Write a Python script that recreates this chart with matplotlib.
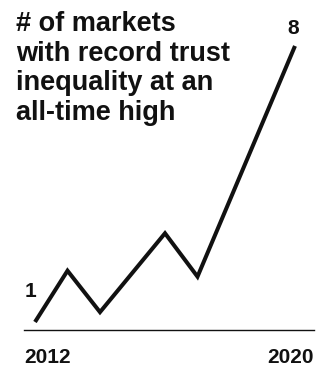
import matplotlib
matplotlib.use('Agg')
import matplotlib.pyplot as plt

# Data
years = [2012, 2013, 2014, 2016, 2017, 2020]
markets = [1, 2.3, 1.25, 3.25, 2.15, 8]
title = '# of markets\nwith record trust\ninequality at an\nall-time high'
start_label = '1'
end_label = '8'

W, H = 326, 376
plt.rcParams['font.family'] = ['Liberation Sans', 'DejaVu Sans']
ink = '#111111'

fig = plt.figure(figsize=(W / 100, H / 100), dpi=100)
ax = fig.add_axes([0, 0, 1, 1])
ax.set_xlim(2010.923, 2020.954)
ax.set_ylim(-0.37, 9.166)
ax.axis('off')

ax.plot(years, markets, color=ink, lw=2.9, solid_joinstyle='miter', solid_capstyle='butt')

# baseline
ax.axhline(0.797, xmin=24 / W, xmax=314 / W, color=ink, lw=1.0)

ax.text(16 / W, 1 - 11 / H, title, transform=ax.transAxes, ha='left', va='top',
        fontsize=19.5, fontweight='bold', color=ink, linespacing=1.18)

ax.text(24 / W, 1 - 363 / H, str(years[0]), transform=ax.transAxes, ha='left',
        va='baseline', fontsize=15, fontweight='bold', color=ink)
ax.text(314 / W, 1 - 363 / H, str(years[-1]), transform=ax.transAxes, ha='right',
        va='baseline', fontsize=15, fontweight='bold', color=ink)

ax.annotate(start_label, (years[0], markets[0]), xytext=(-3, 22), textcoords='offset points',
            ha='center', va='center', fontsize=15, fontweight='bold', color=ink)
ax.annotate(end_label, (years[-1], markets[-1]), xytext=(-1, 6), textcoords='offset points',
            ha='center', va='bottom', fontsize=15, fontweight='bold', color=ink)

fig.savefig('out.png', dpi=100, facecolor='white')
